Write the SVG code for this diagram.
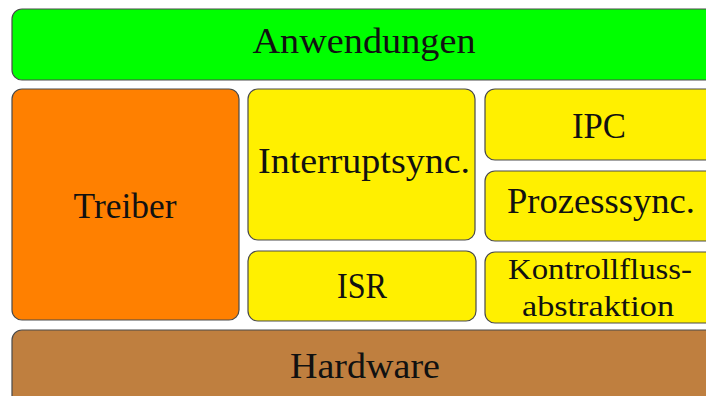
<svg xmlns="http://www.w3.org/2000/svg" width="706" height="396" viewBox="0 0 706 396">
<style>
.b{stroke:#4a4a4a;stroke-width:1.2}
.g{fill:#00ff00}.o{fill:#ff8000}.y{fill:#fff000}.h{fill:#bf7f3f}
text{font-family:"Liberation Serif","DejaVu Serif",serif;font-size:35px;fill:#111;text-anchor:middle}
.s{font-size:30px}
</style>
<rect width="706" height="396" fill="#fff"/>
<g id="anwendungen"><rect class="b g" x="12" y="9" width="704" height="71" rx="10"/><text x="364" y="53" textLength="223" lengthAdjust="spacingAndGlyphs">Anwendungen</text></g>
<g id="treiber"><rect class="b o" x="12" y="89" width="227" height="231" rx="10"/><text x="125" y="218" textLength="103" lengthAdjust="spacingAndGlyphs">Treiber</text></g>
<g id="interruptsync"><rect class="b y" x="248" y="89" width="227" height="151" rx="10"/><text x="364" y="173" textLength="212" lengthAdjust="spacingAndGlyphs">Interruptsync.</text></g>
<g id="isr"><rect class="b y" x="248" y="251" width="228" height="70" rx="10"/><text x="362" y="298" textLength="50" lengthAdjust="spacingAndGlyphs">ISR</text></g>
<g id="ipc"><rect class="b y" x="485" y="89" width="231" height="71" rx="10"/><text x="599" y="138" textLength="54" lengthAdjust="spacingAndGlyphs">IPC</text></g>
<g id="prozesssync"><rect class="b y" x="485" y="171" width="231" height="70" rx="10"/><text x="601" y="213" textLength="188" lengthAdjust="spacingAndGlyphs">Prozesssync.</text></g>
<g id="kontrollfluss"><rect class="b y" x="485" y="252" width="231" height="71" rx="10"/><text class="s" x="600" y="279" textLength="184" lengthAdjust="spacingAndGlyphs">Kontrollfluss-</text><text class="s" x="598" y="316" textLength="152" lengthAdjust="spacingAndGlyphs">abstraktion</text></g>
<g id="hardware"><rect class="b h" x="12" y="330" width="704" height="80" rx="10"/><text x="365" y="378" textLength="150" lengthAdjust="spacingAndGlyphs">Hardware</text></g>
<g id="connectors"/>
</svg>
